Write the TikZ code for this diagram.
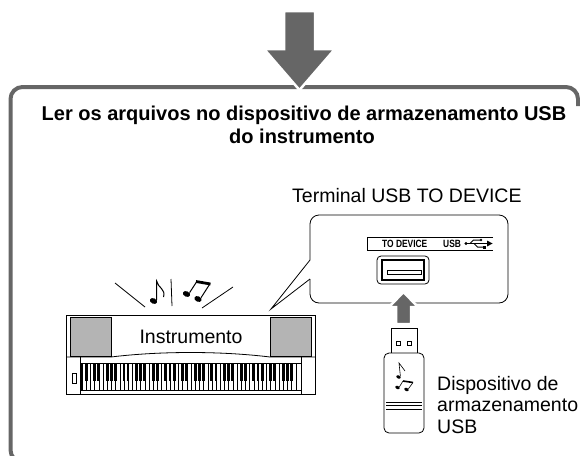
\documentclass[tikz,border=0pt]{standalone}
\usepackage{fontspec}
\setmainfont{Liberation Sans}
\usetikzlibrary{positioning}
\definecolor{frameGray}{RGB}{102,102,102}
\definecolor{speakerGray}{RGB}{180,180,180}
\tikzstyle{pixels} = [x = 1pt, y = -1pt]
\tikzstyle{frameLine} = [color=frameGray, line width=4pt, rounded corners = 12pt]
\tikzstyle{thinLine} = [color=black, line width=.8pt]
\tikzstyle{bigArrow} = [fill=frameGray, draw=white, line width=2.5pt, line join=miter]
\tikzstyle{speakerStyle} = [fill=speakerGray, draw=black, line width=.6pt]
\tikzstyle{keyLine} = [color=black, line width=.35pt]
\tikzstyle{titleText} = [font=\fontsize{20}{23}\selectfont\bfseries, inner sep=0pt, anchor=base]
\tikzstyle{labelText} = [font=\fontsize{19.5}{21.5}\selectfont, inner sep=0pt, anchor=base west]
\tikzstyle{panelText} = [font=\fontsize{10.5}{11}\selectfont\bfseries, inner sep=0pt, anchor=base west]
\newcommand{\keyWidth}{4.19}
\newcommand{\noteHead}[4]{\fill [rotate around={-25:(#1,#2)}] (#1,#2) ellipse (#3 and #4);}
\newcommand{\squeezed}[1]{\scalebox{.8}[1]{#1}}
\newcommand{\whiteKeys}[3]{
  \foreach \key in {1,...,51} {
    \draw [keyLine] (#1 + \key * \keyWidth, #2) -- + (0, #3);
  }
}
\newcommand{\blackKeys}[3]{
  \foreach \key in {0,...,50} {
    \pgfmathtruncatemacro{\letter}{mod(\key + 5, 7)}
    \ifnum \letter = 2
    \else
      \ifnum \letter = 6
      \else
        \fill (#1 + \key * \keyWidth + \keyWidth - 1.4, #2) rectangle + (2.8, #3);
      \fi
    \fi
  }
}

\begin{document}
\begin{tikzpicture}[pixels]
  \useasboundingbox (0,0) rectangle (580,455);
  \clip (0,0) rectangle (580,455);

  \draw [frameLine] (578,106) -- (578,87) -- (10.5,87) -- (10.5,462) -- (40,462);
  \draw [bigArrow] (284,11) -- (315,11) -- (315,49) -- (335,49) -- (299.5,90) -- (264,49) -- (284,49) -- cycle;

  \node [titleText] (titleTop) at (304,120) {Ler os arquivos no dispositivo de armazenamento USB};
  \node [titleText] (titleBottom) at (302,143) {do instrumento};

  % keyboard
  \draw [thinLine, fill=white] (66,315) rectangle (315,394);
  \filldraw [speakerStyle] (70,317) rectangle (111,356);
  \filldraw [speakerStyle] (270,317) rectangle (311,356);
  \draw [thinLine] (66,357) -- (111,357) .. controls (160,351) and (221,351) .. (270,357) -- (315,357);
  \draw [thinLine] (80,357) -- (80,394);
  \draw [thinLine] (301,357) -- (301,394);
  \draw [thinLine] (80,363) -- (301,363);
  \draw [thinLine] (80,390) -- (301,390);
  \draw [line width=.6pt] (72,373) rectangle (76,383);
  \fill (80.5,363) rectangle (82.5,390);
  \whiteKeys{82}{363}{27}
  \blackKeys{82}{363}{17.5}
  \node [labelText, anchor=base] (instrument) at (191,343) {Instrumento};

  % sound
  \draw [thinLine] (115,283) -- (145,307);
  \draw [thinLine] (171,279) -- (172,306);
  \draw [thinLine] (202,308) -- (233,287);
  \noteHead{153.5}{301}{3.8}{2.7}
  \draw [line width=1pt] (156.6,299.8) -- (156.6,281) .. controls (158,288) and (166,289) .. (163.5,297);
  \noteHead{186.5}{294}{3.8}{2.7}
  \noteHead{198}{299}{3.8}{2.7}
  \draw [line width=1pt] (189.6,292.6) -- (196.5,282);
  \draw [line width=1pt] (201.1,297.6) -- (209.5,284.5);
  \draw [line width=2.8pt] (196,281.5) -- (210.5,284);

  % terminal close-up
  \coordinate (pointerTip) at (271,309);
  \coordinate (pointerTop) at (310,260);
  \coordinate (pointerBottom) at (310,279);
  \draw [thinLine, rounded corners=9pt] (pointerTop) -- (310,215) -- (508,215) -- (508,303) -- (310,303) -- (pointerBottom);
  \draw [thinLine, line join=miter] (pointerTop) -- (pointerTip) -- (pointerBottom);
  \node [labelText] (terminal) at (292,202) {Terminal USB TO DEVICE};

  \draw [line width=.7pt] (493,237) -- (367,237) -- (367,250) -- (493,250);
  \node [panelText] (toDevice) at (382,247.8) {\squeezed{TO DEVICE}};
  \node [panelText] (usbMark) at (443,247.8) {\squeezed{USB}};
  \fill (466,243.5) circle (1.7);
  \draw [line width=1pt] (466,243.5) -- (488,243.5);
  \fill (492.5,243.5) -- (487,240.5) -- (487,246.5) -- cycle;
  \draw [line width=1pt] (470,243.5) -- (473.5,240) -- (480,240);
  \fill (481,240) circle (1.4);
  \draw [line width=1pt] (474,243.5) -- (477.5,247) -- (483,247);
  \fill (482.5,245.5) rectangle (485.5,248.5);

  \draw [line width=.8pt, rounded corners=4pt] (377,256) rectangle (429,284);
  \draw [line width=1.6pt] (382,260) rectangle (424,280);
  \draw [line width=.7pt] (387,270) rectangle (421,274.5);

  \draw [bigArrow] (396,324) -- (396,307) -- (389,307) -- (403.5,292) -- (418,307) -- (411,307) -- (411,324) -- cycle;

  % memory stick
  \draw [thinLine, fill=white] (391,328) rectangle (417,354);
  \draw [line width=.6pt] (396,341) rectangle (400,345);
  \draw [line width=.6pt] (407,341) rectangle (411,345);
  \draw [thinLine, fill=white, rounded corners=5pt] (384,353) rectangle (424,433);
  \foreach \y in {402,405.5,409} {
    \draw [line width=.6pt] (386,\y) -- (422,\y);
  }
  \noteHead{398.5}{377}{2.3}{1.6}
  \draw [line width=.6pt] (400.4,376.3) -- (399,363) -- (405,371);
  \noteHead{397.5}{387.5}{2.3}{1.6}
  \noteHead{406.5}{389.5}{2.3}{1.6}
  \draw [line width=.6pt] (399.4,386.8) -- (403,381);
  \draw [line width=.6pt] (408.4,388.8) -- (413,382.5);
  \draw [line width=1.6pt] (403,381) -- (413,382.5);

  \node [labelText] (storageA) at (437,390) {Dispositivo de};
  \node [labelText] (storageB) at (437,411.5) {armazenamento};
  \node [labelText] (storageC) at (437,433) {USB};
\end{tikzpicture}
\end{document}
